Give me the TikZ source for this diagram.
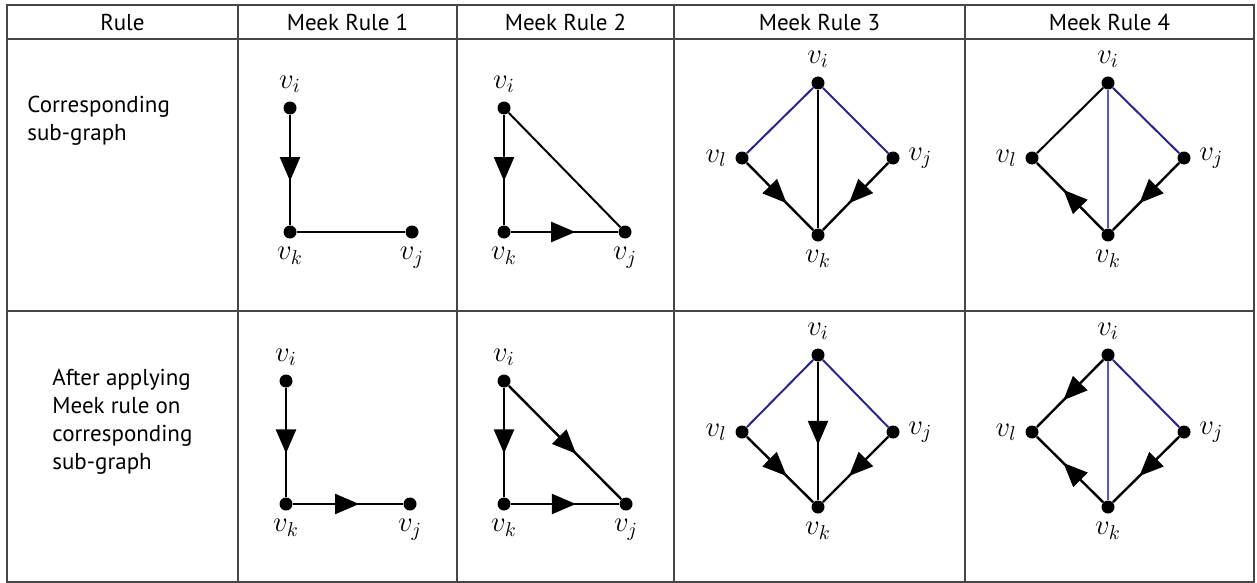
\documentclass[tikz,border=0pt]{standalone}
\usepackage{fontspec}
\setmainfont{PT Sans}
\usetikzlibrary{arrows.meta,decorations.markings}
\definecolor{navyedge}{RGB}{40,40,140}
\definecolor{paleedge}{RGB}{85,85,210}
\definecolor{rulegray}{RGB}{70,70,70}
\tikzset{
  vtx/.style={circle, fill=black, inner sep=0pt, minimum size=6.5pt},
  lbl/.style={font=\fontsize{14}{16}\selectfont, inner sep=1pt},
  diredge/.style={line width=1.2pt, postaction={decorate},
    decoration={markings, mark=at position 0.6 with {\arrow{Triangle[length=12pt,width=10pt]}}}},
  plainedge/.style={line width=1pt},
  navyline/.style={line width=1pt, navyedge},
  paleline/.style={line width=1.1pt, paleedge},
  tableline/.style={line width=0.9pt, rulegray},
  headtext/.style={font=\fontsize{11.5}{14}\selectfont},
  celltext/.style={font=\fontsize{11.5}{14}\selectfont, align=left, anchor=north west, inner sep=0pt}
}
\begin{document}
\begin{tikzpicture}[x=0.5pt, y=-0.5pt, label distance=3pt]
    \useasboundingbox (0,0) rectangle (1257,583);
    \draw [tableline] (7,5) rectangle (1254,582);
    \draw [tableline] (7,39) -- (1254,39);
    \draw [tableline] (7,311) -- (1254,311);
    \foreach \cx in {238,457,674,965}
        \draw [tableline] (\cx,5) -- (\cx,582);

    \node [headtext] (hrule) at (122.5,22) {Rule};
    \node [headtext] (hone) at (347.5,22) {Meek Rule 1};
    \node [headtext] (htwo) at (565.5,22) {Meek Rule 2};
    \node [headtext] (hthree) at (819.5,22) {Meek Rule 3};
    \node [headtext] (hfour) at (1109.5,22) {Meek Rule 4};
    \node [celltext] (subtext) at (27,96) {Corresponding\\sub-graph};
    \node [celltext] (aftertext) at (52,369) {After applying\\Meek rule on\\corresponding\\sub-graph};

    % corresponding sub-graphs
    \node [vtx, label={[lbl]above:$v_i$}] (t1i) at (290,108) {};
    \node [vtx, label={[lbl]below:$v_k$}] (t1k) at (290,232) {};
    \node [vtx, label={[lbl]below:$v_j$}] (t1j) at (412,232) {};
    \draw [diredge] (t1i) -- (t1k);
    \draw [plainedge] (t1k) -- (t1j);

    \node [vtx, label={[lbl]above:$v_i$}] (t2i) at (504,108) {};
    \node [vtx, label={[lbl]below:$v_k$}] (t2k) at (504,232) {};
    \node [vtx, label={[lbl]below:$v_j$}] (t2j) at (625,232) {};
    \draw [diredge] (t2i) -- (t2k);
    \draw [diredge] (t2k) -- (t2j);
    \draw [plainedge] (t2i) -- (t2j);

    \node [vtx, label={[lbl]above:$v_i$}] (t3i) at (818,83) {};
    \node [vtx, label={[lbl]left:$v_l$}] (t3l) at (742,158) {};
    \node [vtx, label={[lbl]right:$v_j$}] (t3j) at (893,158) {};
    \node [vtx, label={[lbl]below:$v_k$}] (t3k) at (818,235) {};
    \draw [navyline] (t3i) -- (t3l);
    \draw [navyline] (t3i) -- (t3j);
    \draw [plainedge] (t3i) -- (t3k);
    \draw [diredge] (t3l) -- (t3k);
    \draw [diredge] (t3j) -- (t3k);

    \node [vtx, label={[lbl]above:$v_i$}] (t4i) at (1108,83) {};
    \node [vtx, label={[lbl]left:$v_l$}] (t4l) at (1032,158) {};
    \node [vtx, label={[lbl]right:$v_j$}] (t4j) at (1184,158) {};
    \node [vtx, label={[lbl]below:$v_k$}] (t4k) at (1108,235) {};
    \draw [plainedge] (t4i) -- (t4l);
    \draw [navyline] (t4i) -- (t4j);
    \draw [paleline] (t4i) -- (t4k);
    \draw [diredge] (t4k) -- (t4l);
    \draw [diredge] (t4j) -- (t4k);

    % after applying the rules
    \node [vtx, label={[lbl]above:$v_i$}] (b1i) at (286,381) {};
    \node [vtx, label={[lbl]below:$v_k$}] (b1k) at (286,504) {};
    \node [vtx, label={[lbl]below:$v_j$}] (b1j) at (410,504) {};
    \draw [diredge] (b1i) -- (b1k);
    \draw [diredge] (b1k) -- (b1j);

    \node [vtx, label={[lbl]above:$v_i$}] (b2i) at (504,381) {};
    \node [vtx, label={[lbl]below:$v_k$}] (b2k) at (504,504) {};
    \node [vtx, label={[lbl]below:$v_j$}] (b2j) at (626,504) {};
    \draw [diredge] (b2i) -- (b2k);
    \draw [diredge] (b2k) -- (b2j);
    \draw [diredge] (b2i) -- (b2j);

    \node [vtx, label={[lbl]above:$v_i$}] (b3i) at (818,355) {};
    \node [vtx, label={[lbl]left:$v_l$}] (b3l) at (742,432) {};
    \node [vtx, label={[lbl]right:$v_j$}] (b3j) at (893,432) {};
    \node [vtx, label={[lbl]below:$v_k$}] (b3k) at (818,507) {};
    \draw [navyline] (b3i) -- (b3l);
    \draw [navyline] (b3i) -- (b3j);
    \draw [diredge] (b3i) -- (b3k);
    \draw [diredge] (b3l) -- (b3k);
    \draw [diredge] (b3j) -- (b3k);

    \node [vtx, label={[lbl]above:$v_i$}] (b4i) at (1108,355) {};
    \node [vtx, label={[lbl]left:$v_l$}] (b4l) at (1032,432) {};
    \node [vtx, label={[lbl]right:$v_j$}] (b4j) at (1184,432) {};
    \node [vtx, label={[lbl]below:$v_k$}] (b4k) at (1108,507) {};
    \draw [diredge] (b4i) -- (b4l);
    \draw [navyline] (b4i) -- (b4j);
    \draw [paleline] (b4i) -- (b4k);
    \draw [diredge] (b4k) -- (b4l);
    \draw [diredge] (b4j) -- (b4k);
\end{tikzpicture}
\end{document}
